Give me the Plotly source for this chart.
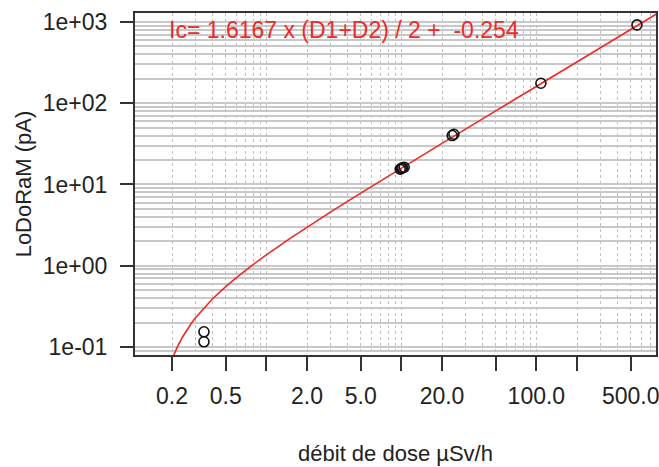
import plotly.graph_objects as go

# measured points
dose = [0.345, 0.345, 9.8, 10.0, 10.2, 10.5, 23.8, 24.5, 108.0, 556.0]
lodoram = [0.154, 0.116, 15.4, 15.8, 16.0, 16.3, 40.0, 41.5, 176.0, 919.0]

# fit coefficients shown in the chart
slope = 1.6167
intercept = -0.254
fit_label = "Ic= 1.6167 x (D1+D2) / 2 +\u00a0\u00a0-0.254"

x_tick_vals = [0.2, 0.5, 1, 2, 5, 10, 20, 50, 100, 200, 500]
x_tick_text = ["0.2", "0.5", "", "2.0", "5.0", "", "20.0", "", "100.0", "", "500.0"]
y_tick_vals = [0.1, 1, 10, 100, 1000]
y_tick_text = ["1e-01", "1e+00", "1e+01", "1e+02", "1e+03"]

# fit curve sample abscissae
fit_x = [0.2064, 0.21, 0.22, 0.24, 0.26, 0.28, 0.3, 0.35, 0.4, 0.5, 0.6, 0.8, 1, 1.5, 2, 3, 5, 8,
         10, 20, 50, 100, 200, 500, 800]
fit_y = [slope * v + intercept for v in fit_x]

minor_x = [m * 10 ** e for e in range(-1, 3) for m in range(1, 10)]
minor_y = [m * 10 ** e for e in range(-2, 4) for m in range(1, 10)]

font = "Arial, Liberation Sans, sans-serif"

fig = go.Figure()
fig.add_trace(go.Scatter(x=fit_x, y=fit_y, mode="lines",
                         line=dict(color="#f02828", width=1.6), hoverinfo="skip"))
fig.add_trace(go.Scatter(x=dose, y=lodoram, mode="markers",
                         marker=dict(symbol="circle-open", size=10, color="#111111",
                                     line=dict(width=1.6, color="#111111"))))

fig.add_annotation(text=fit_label, x=0.062, y=0.995, xref="paper", yref="paper",
                   xanchor="left", yanchor="top", showarrow=False,
                   font=dict(family=font, size=23, color="#f02828"))

fig.update_layout(
    width=659, height=467,
    margin=dict(l=135, r=3, t=13, b=112, autoexpand=False),
    paper_bgcolor="white", plot_bgcolor="white",
    showlegend=False,
    font=dict(family=font, size=22, color="#222222"),
    xaxis=dict(type="log", range=[-0.973, 2.886], automargin=False,
               tickmode="array", tickvals=x_tick_vals, ticktext=x_tick_text,
               ticks="outside", ticklen=14, tickwidth=2, tickcolor="#333333",
               ticklabelstandoff=5, ticklabeloverflow="allow",
               tickfont=dict(family=font, size=23, color="#222222"),
               showgrid=True, gridcolor="#c0c0c0", griddash="dot", gridwidth=1,
               minor=dict(tickmode="array", tickvals=minor_x, showgrid=True,
                          gridcolor="#c0c0c0", griddash="dot", gridwidth=1, ticks=""),
               showline=True, linecolor="#333333", linewidth=2, mirror=True,
               zeroline=False,
               title=dict(text="débit de dose µSv/h", standoff=38,
                          font=dict(family=font, size=22, color="#222222"))),
    yaxis=dict(type="log", range=[-1.098, 3.11], automargin=False,
               tickmode="array", tickvals=y_tick_vals, ticktext=y_tick_text,
               ticks="outside", ticklen=13, tickwidth=2, tickcolor="#333333",
               ticklabelstandoff=8, ticklabeloverflow="allow",
               tickfont=dict(family=font, size=23, color="#222222"),
               showgrid=True, gridcolor="#c8c8c8", gridwidth=1.5,
               minor=dict(tickmode="array", tickvals=minor_y, showgrid=True,
                          gridcolor="#c8c8c8", gridwidth=1.5, ticks=""),
               showline=True, linecolor="#333333", linewidth=2, mirror=True,
               zeroline=False,
               title=dict(text="LoDoRaM (pA)", standoff=5,
                          font=dict(family=font, size=22, color="#222222"))),
)

fig.write_html("out.html", config={"displayModeBar": False},
               post_script="document.body.style.margin='0';document.body.style.overflow='hidden';")
